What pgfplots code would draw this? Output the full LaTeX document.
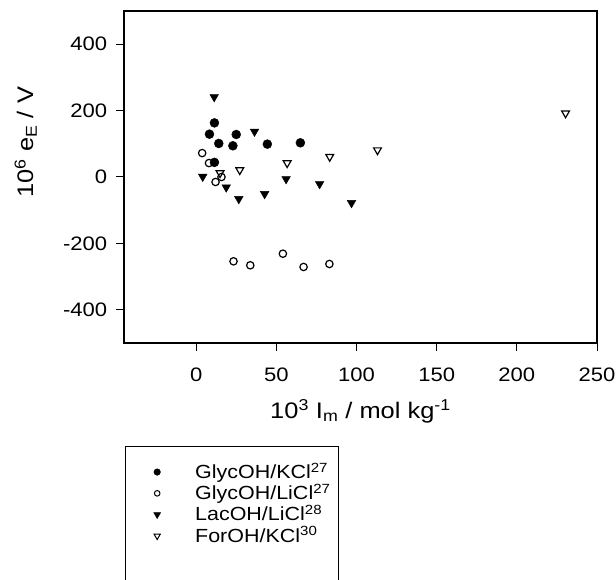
\documentclass[border=0pt]{standalone}
\usepackage{fontspec}
\setmainfont{Liberation Sans}[FakeStretch=1.13]
\usepackage{pgfplots}
\pgfplotsset{compat=1.18}
\pgfplotsset{mylegend/.style={legend image code/.code={%
  \path[draw=none,fill=none] (0pt,-10.65pt) rectangle (18pt,10.65pt);
  \draw[##1] plot coordinates {(9pt,0pt)};}}}
\begin{document}
\fontsize{20}{24}\selectfont
\begin{tikzpicture}
\useasboundingbox (0pt,0pt) rectangle (616pt,580pt);
\begin{axis}[
  at={(124pt,237pt)}, anchor=south west,
  scale only axis, width=473pt, height=332pt,
  xmin=-45, xmax=250, ymin=-500, ymax=500,
  xtick={0,50,100,150,200,250},
  ytick={-400,-200,0,200,400},
  tick pos=left, tick align=outside,
  major tick length=8pt,
  tick style={line width=1pt, black},
  axis line style={line width=1.1pt},
  /pgf/number format/assume math mode=true,
  tick label style={font=\fontsize{19.5}{23}\selectfont},
  xticklabel style={yshift=-10pt},
  yticklabel style={xshift=-2pt},
  every axis x label/.style={at={(axis description cs:0.5,-0.226)}, anchor=base, font=\fontsize{22.5}{26}\selectfont},
  every axis y label/.style={at={(axis description cs:-0.192,0.605)}, anchor=base, rotate=90, font=\fontsize{22.5}{26}\selectfont},
  xlabel={10\textsuperscript{3} I\textsubscript{m} / mol kg\textsuperscript{-1}},
  ylabel={10\textsuperscript{6} e\textsubscript{E} / V},
  legend style={draw=none, fill=none, at={(axis description cs:0.0507,-0.356)}, anchor=north west,
    font=\fontsize{19}{23}\selectfont, row sep=0pt, column sep=29pt, inner sep=0pt,
    nodes={inner sep=0pt}},
  legend cell align=left,
]
% GlycOH/KCl
\addplot[forget plot, only marks, mark=*, mark size=4.5pt, black] coordinates {
(11.4,163) (8.3,129) (25,128) (14.1,101) (22.9,94) (44.4,99) (65,103) (11.4,44)};
% GlycOH/LiCl
\addplot[forget plot, only marks, mark=o, mark size=3.7pt, black, mark options={line width=1.2pt}] coordinates {
(3.75,72) (8,42) (15.8,0) (12.1,-15) (23.3,-254) (33.75,-266) (54.1,-231) (67,-271) (83.1,-262)};
% LacOH/LiCl
\addplot[forget plot, only marks, mark=triangle*, mark size=5pt, black, mark options={rotate=180}] coordinates {
(11.25,241) (36.4,137) (4.1,1) (18.75,-31) (26.6,-66) (42.7,-51) (56.1,-6) (77,-21) (96.9,-78)};
% ForOH/KCl
\addplot[forget plot, only marks, mark=triangle, mark size=4.5pt, black, mark options={rotate=180, line width=1.2pt}] coordinates {
(14.9,12) (27.2,21) (56.75,42) (83.3,61) (113.1,81) (230.4,192)};
\addlegendimage{only marks, mark=*, mark size=3.3pt, black, mylegend}
\addlegendentry{GlycOH/KCl\textsuperscript{27}}
\addlegendimage{only marks, mark=o, mark size=2.8pt, black, mark options={line width=1pt}, mylegend}
\addlegendentry{GlycOH/LiCl\textsuperscript{27}}
\addlegendimage{only marks, mark=triangle*, mark size=4pt, black, mark options={rotate=180}, mylegend}
\addlegendentry{LacOH/LiCl\textsuperscript{28}}
\addlegendimage{only marks, mark=triangle, mark size=3.6pt, black, mark options={rotate=180, line width=1pt}, mylegend}
\addlegendentry{ForOH/KCl\textsuperscript{30}}
\end{axis}
\draw[line width=1pt] (125pt,133pt) rectangle (338pt,-30pt);
\end{tikzpicture}
\end{document}
